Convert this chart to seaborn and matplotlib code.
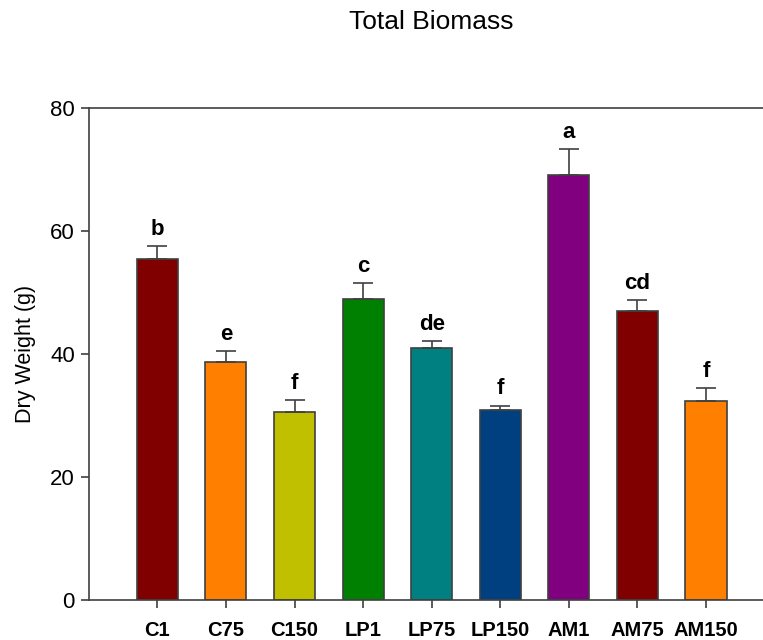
import matplotlib
matplotlib.use("Agg")
import matplotlib.pyplot as plt
import seaborn as sns
import pandas as pd

# Treatment groups and their mean dry weight with standard error
treatments = ["C1", "C75", "C150", "LP1", "LP75", "LP150", "AM1", "AM75", "AM150"]
dry_weight = [55.4, 38.75, 30.6, 48.9, 40.9, 30.85, 69.1, 47.0, 32.4]
std_error = [2.2, 1.75, 1.85, 2.6, 1.25, 0.75, 4.2, 1.75, 2.1]
letters = ["b", "e", "f", "c", "de", "f", "a", "cd", "f"]
bar_colors = ["#800000", "#FF8000", "#C0C000", "#008000", "#008080",
              "#004080", "#800080", "#800000", "#FF8000"]
y_ticks = [0, 20, 40, 60, 80]

df = pd.DataFrame({"Treatment": treatments, "Dry Weight": dry_weight})

sns.set_style("white")
plt.rcParams["font.family"] = ["Liberation Sans", "DejaVu Sans"]
plt.rcParams["text.color"] = "black"
plt.rcParams["axes.labelcolor"] = "black"
plt.rcParams["xtick.color"] = "black"
plt.rcParams["ytick.color"] = "black"

edge = "#404040"
fig = plt.figure(figsize=(7.63, 6.4), dpi=100)
ax = fig.add_axes([0.1163, 0.0625, 0.8837, 0.76875])

sns.barplot(data=df, x="Treatment", y="Dry Weight", hue="Treatment",
            palette=bar_colors, saturation=1, legend=False, width=0.6,
            errorbar=None, edgecolor=edge, linewidth=1.2, ax=ax, zorder=2)

# upper-only error bars
ax.errorbar(range(len(treatments)), dry_weight,
            yerr=[[0] * len(std_error), std_error],
            fmt="none", ecolor=edge, elinewidth=1.2, capsize=7,
            capthick=1.2, zorder=3)

for i, (v, e, lab) in enumerate(zip(dry_weight, std_error, letters)):
    ax.annotate(lab, xy=(i, v + e), xytext=(0, 4.5), textcoords="offset points",
                ha="center", va="bottom", fontsize=16, fontweight="bold",
                color="black")

ax.set_xlim(-1, 8.83)
ax.set_ylim(0, 80)
ax.set_yticks(y_ticks)
ax.set_xlabel("")
ax.set_ylabel("Dry Weight (g)", fontsize=15.5, labelpad=10, color="black")
ax.tick_params(axis="y", labelsize=16, length=6, width=1.2, color=edge,
               labelcolor="black", direction="out", left=True, pad=4)
ax.tick_params(axis="x", labelsize=14.5, length=6, width=1.2, color=edge,
               labelcolor="black", direction="out", bottom=True, pad=9)
for t in ax.get_xticklabels():
    t.set_fontweight("bold")

for side in ["left", "bottom", "top"]:
    ax.spines[side].set_visible(True)
    ax.spines[side].set_color(edge)
    ax.spines[side].set_linewidth(1.2)
ax.spines["right"].set_visible(False)

fig.text(0.565, 0.965, "Total Biomass", ha="center", va="center",
         fontsize=19, color="black")

fig.savefig("out.png", dpi=100)
